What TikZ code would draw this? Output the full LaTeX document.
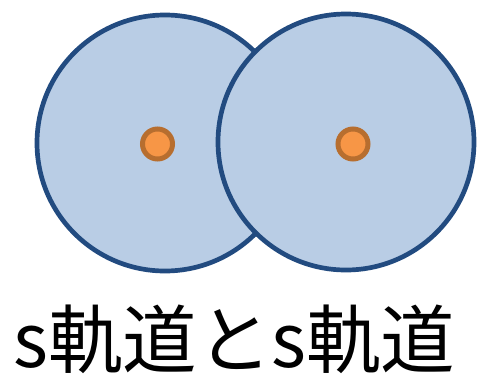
\documentclass[tikz,border=0pt]{standalone}
\usepackage{fontspec}
\newfontfamily\jpfont{Noto Sans CJK JP}
\definecolor{orbfill}{HTML}{B9CDE5}
\definecolor{orbline}{HTML}{224B80}
\definecolor{nucfill}{HTML}{F79646}
\definecolor{nucline}{HTML}{B76E2F}
\begin{document}
\begin{tikzpicture}[x=1pt,y=-1pt,
  orbital/.style={circle,draw=orbline,fill=orbfill,line width=4.7pt,minimum size=256pt,inner sep=0pt},
  nucleus/.style={circle,draw=nucline,fill=nucfill,line width=5pt,minimum size=30pt,inner sep=0pt},
  caption/.style={inner sep=0pt,font=\jpfont\fontsize{74.5}{80}\selectfont}]
\useasboundingbox (0,0) rectangle (479,381);
\node[orbital] (o1) at (165,143) {};
\node[orbital] (o2) at (346,142) {};
\node[nucleus] (n1) at (157.5,144) {};
\node[nucleus] (n2) at (353,144) {};
\node[caption,anchor=base west] (t) at (13,367) {s軌道とs軌道};
\end{tikzpicture}
\end{document}
